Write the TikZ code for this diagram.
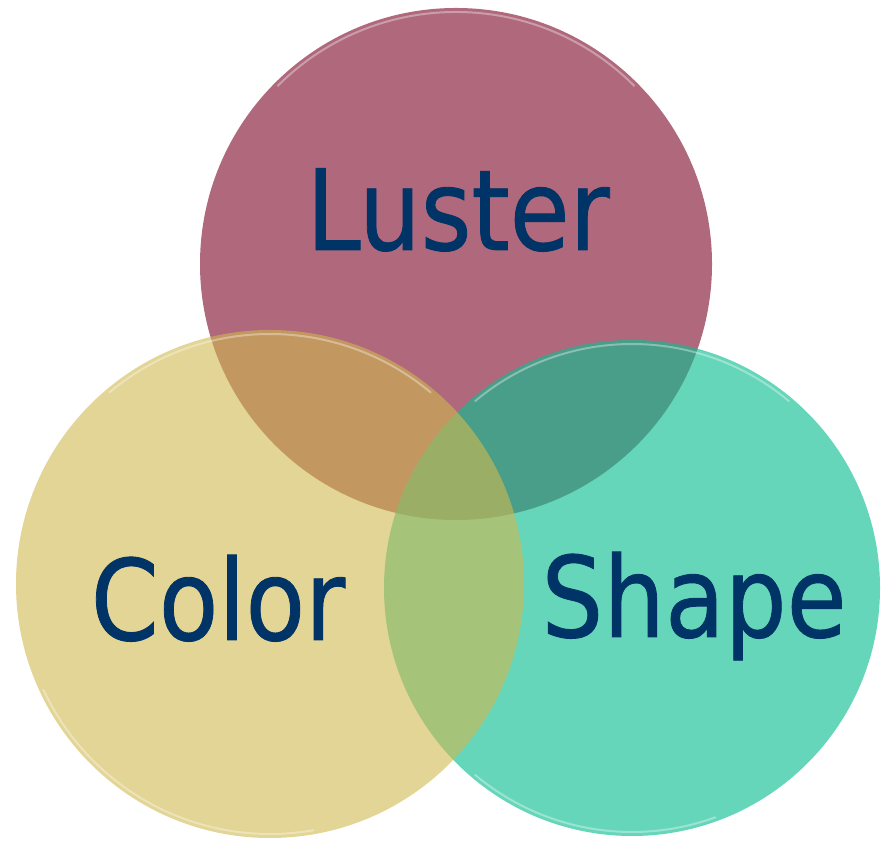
\documentclass[tikz,border=0pt]{standalone}
\usepackage{fontspec}
\newfontfamily\labelfont[FakeBold=0.8]{DejaVu Sans}
\usetikzlibrary{positioning}
\definecolor{Mauve}{HTML}{B0687C}
\definecolor{Sand}{HTML}{D0B94E}
\definecolor{Teal}{HTML}{0EBE92}
\definecolor{Ink}{HTML}{003366}

\begin{document}
\begin{tikzpicture}[x=1pt,y=1pt,
  disc/.style={circle,minimum size=#1,inner sep=0pt,outer sep=0pt},
  word/.style={anchor=base,inner sep=0pt,text=Ink,font=\labelfont\fontsize{112}{112}\selectfont},
  gloss/.style={white,line width=2pt,opacity=0.35,line cap=round}]
\path[use as bounding box] (0,0) rectangle (882,842);

% circles, back to front
\node[disc=512pt,fill=Mauve] (luster) at (456,578) {};
\draw[gloss] ([shift={(45:252)}]luster.center) arc (45:135:252);
\node[disc=496pt,fill=Teal,fill opacity=0.635] (shape) at (632,254) {};
\draw[gloss] ([shift={(50:244)}]shape.center) arc (50:130:244);
\draw[gloss] ([shift={(230:244)}]shape.center) arc (230:290:244);
\node[disc=508pt,fill=Sand,fill opacity=0.6] (color) at (270,258) {};
\draw[gloss] ([shift={(50:250)}]color.center) arc (50:130:250);
\draw[gloss] ([shift={(205:250)}]color.center) arc (205:280:250);

% labels
\node[word] (lusterlabel) at (458,592) {\scalebox{0.87}[1]{Luster}};
\node[word] (colorlabel) at (218,202) {\scalebox{0.87}[1]{Color}};
\node[word] (shapelabel) at (694,205) {\scalebox{0.87}[1]{Shape}};
\end{tikzpicture}
\end{document}
